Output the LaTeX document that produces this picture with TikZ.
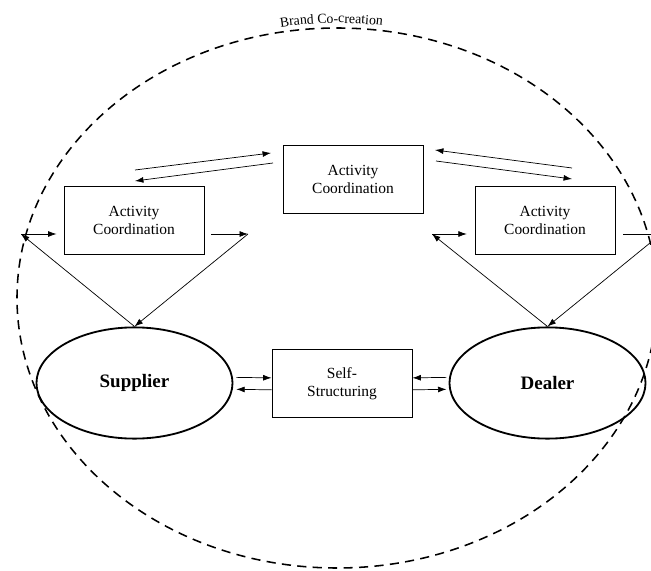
\documentclass[tikz,border=0pt]{standalone}
\usepackage{fontspec}
\setmainfont{Liberation Serif}
\usetikzlibrary{arrows.meta,calc,shapes.geometric,decorations.text}

\tikzset{
  actbox/.style={draw,line width=0.6pt,minimum width=3.5cm,minimum height=1.7cm,
    align=center,font=\fontsize{11}{12.8}\selectfont},
  party/.style={draw,ellipse,line width=1.3pt,minimum width=4.9cm,minimum height=2.78cm,
    inner sep=0pt,font=\bfseries\fontsize{13.5}{15}\selectfont},
  link/.style={line width=0.5pt}
}

\begin{document}
\begin{tikzpicture}[x=0.025cm,y=-0.025cm,>={Latex[length=6pt,width=4.2pt]}]
\useasboundingbox (0,0) rectangle (651,571);
% outer co-creation boundary
\draw[line width=1.1pt,dash pattern=on 6.5pt off 4.5pt] (337,298) ellipse [x radius=320,y radius=270];
\path[decorate,decoration={text along path,text align=center,
  text={|\fontsize{9.8}{11}\selectfont|Brand Co-creation}}]
  (337,298) ++(-111:324 and 275) arc[start angle=-111,end angle=-71,x radius=324,y radius=275];
% actors and boxes
\node[party] (sup) at (134.5,383) {Supplier};
\node[party] (dea) at (547.5,383) {Dealer};
\node[actbox] (selfstr) at (342,383.5) {Self-\\Structuring};
\node[actbox] (acL) at (134,220) {Activity\\Coordination};
\node[actbox] (acC) at (353,179) {Activity\\Coordination};
\node[actbox] (acR) at (545,220.5) {Activity\\Coordination};
% corner points
\coordinate (lcL) at (21,234);
\coordinate (lcR) at (248,234);
\coordinate (rcL) at (432,234);
\coordinate (rcR) at (661,234);
% supplier loop
\draw[link,->] (sup.north) -- (lcL);
\draw[link,->,shorten >=5pt] (lcL) -- (lcL -| acL.west);
\draw[link,->,shorten <=5pt] (lcR -| acL.east) -- (lcR);
\draw[link,->] (lcR) -- (sup.north);
% dealer loop
\draw[link,->] (dea.north) -- (rcL);
\draw[link,->,shorten >=5.5pt] (rcL) -- (rcL -| acR.west);
\draw[link,->,shorten <=5.5pt] (rcR -| acR.east) -- (rcR);
\draw[link,->] (rcR) -- (dea.north);
% exchanges with the central box
\coordinate (ta) at (135,170);
\coordinate (tb) at (271,153);
\coordinate (tc) at (273,163);
\coordinate (td) at (135,181);
\coordinate (te) at (572,168);
\coordinate (tf) at (435,150);
\coordinate (tg) at (436,161);
\coordinate (th) at (572,179);
\draw[link,->] (ta) -- (tb);
\draw[link,->] (tc) -- (td);
\draw[link,->] (te) -- (tf);
\draw[link,->] (tg) -- (th);
% self-structuring
\draw[link,->] ([xshift=2pt,yshift=4pt]sup.east) -- ([yshift=4pt]selfstr.west);
\draw[link,->] ([yshift=-4.5pt]selfstr.west) -- ([xshift=2pt,yshift=-4.5pt]sup.east);
\draw[link,->] ([xshift=-1.5pt,yshift=4pt]dea.west) -- ([yshift=4pt]selfstr.east);
\draw[link,->] ([yshift=-4.5pt]selfstr.east) -- ([xshift=-1.5pt,yshift=-4.5pt]dea.west);
\end{tikzpicture}
\end{document}
